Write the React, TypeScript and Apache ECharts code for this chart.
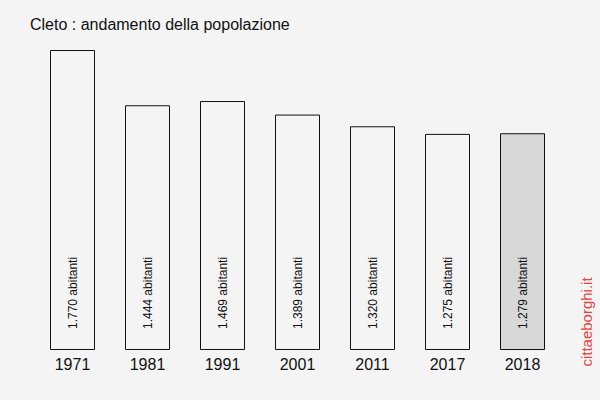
import React, { useEffect, useRef } from "react";
import * as echarts from "echarts";

const categories = ["1971", "1981", "1991", "2001", "2011", "2017", "2018"];
const values = [1770, 1444, 1469, 1389, 1320, 1275, 1279];
const labels = ["1.770 abitanti", "1.444 abitanti", "1.469 abitanti", "1.389 abitanti", "1.320 abitanti", "1.275 abitanti", "1.279 abitanti"];
const fills = ["#f4f4f4", "#f4f4f4", "#f4f4f4", "#f4f4f4", "#f4f4f4", "#f4f4f4", "#d8d8d8"];
const titleText = "Cleto : andamento della popolazione";
const watermark = "cittaeborghi.it";

export default function App() {
  const ref = useRef<HTMLDivElement>(null);
  useEffect(() => {
    if (!ref.current) return;
    const chart = echarts.init(ref.current, null, { renderer: "svg" });
    const font = "Liberation Sans, Arial, sans-serif";
    chart.setOption({
      animation: false,
      backgroundColor: "#f4f4f4",
      textStyle: { fontFamily: font },
      grid: { left: 35, right: 40, top: 50, bottom: 50 },
      xAxis: {
        type: "category",
        data: categories,
        axisLine: { show: false },
        axisTick: { show: false },
        axisLabel: { fontSize: 16, color: "#111", margin: 6, fontFamily: font },
      },
      yAxis: { type: "value", min: 0, max: 1770, show: false, splitLine: { show: false } },
      series: [
        {
          type: "bar",
          barWidth: 45,
          data: values.map((v, i) => ({
            value: v,
            itemStyle: { color: fills[i], borderColor: "#111", borderWidth: 1 },
            label: { formatter: labels[i] },
          })),
          label: {
            show: true,
            position: "insideBottom",
            rotate: 90,
            align: "left",
            verticalAlign: "middle",
            distance: 21,
            fontSize: 12,
            color: "#111",
            fontFamily: font,
          },
        },
      ],
      graphic: [
        {
          type: "text",
          x: 30,
          y: 24,
          style: { text: titleText, fontSize: 16, fill: "#111", fontFamily: font, textAlign: "left", textVerticalAlign: "middle" },
        },
        {
          type: "text",
          x: 586,
          y: 322,
          rotation: Math.PI / 2,
          style: { text: watermark, fontSize: 15, fill: "#e8403f", fontFamily: font, textAlign: "center", textVerticalAlign: "middle" },
        },
      ],
    });
    return () => chart.dispose();
  }, []);
  return <div ref={ref} style={{ position: "fixed", left: 0, top: 0, width: 600, height: 400 }} />;
}
